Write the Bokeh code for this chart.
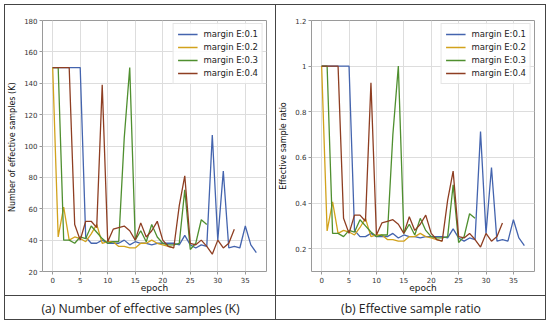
from bokeh.plotting import figure
from bokeh.models import FixedTicker, Legend, LegendItem, Label, Range1d, Spacer
from bokeh.layouts import column, row
from bokeh.embed import file_html
from bokeh.resources import INLINE

# ---------------- data ----------------
series_names = ["margin E:0.1", "margin E:0.2", "margin E:0.3", "margin E:0.4"]
colors = ["#4464ae", "#d2a21c", "#4f8f2f", "#8e3e22"]

blue_k = [150, 150, 150, 150, 150, 150, 42, 38, 38, 40, 38, 38, 38, 40, 37, 39, 38, 38, 37, 38,
          38, 38, 38, 37, 43, 37, 35, 37, 36, 107, 40, 84, 35, 36, 35, 49, 37, 32]
yellow_k = [150, 42, 61, 40, 42, 41, 39, 44, 50, 38, 39, 39, 36, 36, 35, 35, 38, 38, 40, 38,
            37, 36, 35]
green_k = [150, 150, 40, 40, 38, 42, 41, 49, 45, 41, 38, 39, 39, 105, 150, 40, 46, 39, 50, 42,
           38, 37, 37, 38, 72, 34, 38, 53, 50]
brown_k = [150, 150, 150, 150, 50, 40, 52, 52, 48, 139, 39, 47, 48, 49, 46, 40, 51, 42, 46, 52,
           40, 36, 35, 62, 81, 38, 37, 40, 36, 31, 40, 35, 38, 47]

blue_r = [1.0, 1.0, 1.0, 1.0, 1.0, 1.0, 0.28, 0.253, 0.253, 0.267, 0.253, 0.253, 0.253, 0.267,
          0.247, 0.26, 0.253, 0.253, 0.247, 0.253, 0.253, 0.253, 0.253, 0.247, 0.287, 0.247,
          0.233, 0.247, 0.24, 0.713, 0.267, 0.556, 0.233, 0.24, 0.233, 0.327, 0.247, 0.213]
yellow_r = [1.0, 0.278, 0.405, 0.267, 0.28, 0.273, 0.26, 0.293, 0.333, 0.253, 0.26, 0.26, 0.24,
            0.24, 0.233, 0.233, 0.253, 0.253, 0.267, 0.253, 0.247, 0.24, 0.233]
green_r = [1.0, 1.0, 0.267, 0.267, 0.253, 0.28, 0.273, 0.327, 0.3, 0.273, 0.253, 0.26, 0.26, 0.7,
           1.0, 0.267, 0.307, 0.26, 0.333, 0.28, 0.253, 0.247, 0.247, 0.253, 0.48, 0.227, 0.253,
           0.353, 0.333]
brown_r = [1.0, 1.0, 1.0, 1.0, 0.333, 0.267, 0.347, 0.347, 0.32, 0.927, 0.26, 0.313, 0.32, 0.327,
           0.307, 0.267, 0.34, 0.28, 0.307, 0.347, 0.267, 0.24, 0.233, 0.413, 0.54, 0.253, 0.247,
           0.267, 0.24, 0.207, 0.267, 0.233, 0.253, 0.313]

x_ticks = [0, 5, 10, 15, 20, 25, 30, 35]
k_ticks = [20, 40, 60, 80, 100, 120, 140, 160, 180]
r_ticks = [0.2, 0.4, 0.6, 0.8, 1.0, 1.2]

y_label_a = "Number of effective samples  (K)"
y_label_b = "Effective sample ratio"
x_label = "epoch"
caption_a = "(a) Number of effective samples (K)"
caption_b = "(b) Effective sample ratio"

FONT = "DejaVu Sans"
EDGE = "#444444"


def make_plot(series, y_range, y_ticks, y_label, width, left, right):
    p = figure(width=width, height=290, output_backend="svg", toolbar_location=None,
               x_range=Range1d(-1.85, 38.85), y_range=Range1d(*y_range),
               min_border_left=left, min_border_right=right, min_border_top=15,
               min_border_bottom=21)
    p.background_fill_color = "white"
    p.border_fill_color = "white"
    p.outline_line_color = "#9a9a9a"
    p.outline_line_width = 1
    items = []
    for name, col, ys in zip(series_names, colors, series):
        r = p.line(list(range(len(ys))), ys, line_color=col, line_width=1.3)
        items.append(LegendItem(label=name, renderers=[r]))
    for ax in (p.xaxis[0], p.yaxis[0]):
        ax.axis_line_color = None
        ax.major_tick_line_color = "#9a9a9a"
        ax.major_tick_out = 3
        ax.major_tick_in = 0
        ax.minor_tick_line_color = None
        ax.major_label_text_font = FONT
        ax.major_label_text_font_size = "7px"
        ax.major_label_text_color = "#333333"
        ax.major_label_standoff = 2
        ax.axis_label_text_font = FONT
        ax.axis_label_text_font_size = "8px"
        ax.axis_label_text_font_style = "normal"
        ax.axis_label_text_color = "#111111"
    p.xaxis[0].ticker = FixedTicker(ticks=x_ticks)
    p.yaxis[0].ticker = FixedTicker(ticks=y_ticks)
    p.yaxis[0].axis_label = y_label
    p.yaxis[0].axis_label_standoff = 4
    p.xaxis[0].axis_label = x_label
    p.xaxis[0].axis_label_text_font_size = "9px"
    p.xaxis[0].axis_label_standoff = -3
    p.grid.grid_line_color = "#dddddd"
    p.grid.grid_line_width = 1
    leg = Legend(items=items, location="top_right", label_text_font=FONT,
                 label_text_font_size="8.5px", label_text_color="#222222",
                 glyph_width=20, glyph_height=12, label_height=12, spacing=1,
                 padding=4, margin=3, label_standoff=6,
                 border_line_color="#cccccc", background_fill_alpha=0.85)
    p.add_layout(leg)
    return p


def make_caption(text, width):
    c = figure(width=width, height=23, output_backend="svg", toolbar_location=None,
               x_range=Range1d(0, 1), y_range=Range1d(0, 1), x_axis_type=None,
               y_axis_type=None, min_border=0)
    c.min_border_left = c.min_border_right = c.min_border_top = c.min_border_bottom = 0
    c.outline_line_color = None
    c.background_fill_color = "white"
    c.border_fill_color = "white"
    c.grid.visible = False
    c.add_layout(Label(x=0.5, y=0.5, text=text, text_font="Open Sans", text_font_size="12.2px",
                       text_color="#222222", text_align="center", text_baseline="middle"))
    return c


def vline(h):
    return Spacer(width=1, height=h, styles={"background-color": EDGE})


def hline(w):
    return Spacer(width=w, height=1, styles={"background-color": EDGE})


p1 = make_plot([blue_k, yellow_k, green_k, brown_k], (20, 180), k_ticks, y_label_a, 270, 35, 9)
p2 = make_plot([blue_r, yellow_r, green_r, brown_r], (0.1, 1.2), r_ticks, y_label_b, 269, 33, 11)
c1 = make_caption(caption_a, 270)
c2 = make_caption(caption_b, 269)

content = column(
    hline(542),
    row(vline(290), p1, vline(290), p2, vline(290), spacing=0),
    hline(542),
    row(vline(23), c1, vline(23), c2, vline(23), spacing=0),
    hline(542),
    spacing=0,
)
layout = row(Spacer(width=4, height=4), column(Spacer(width=4, height=4), content, spacing=0),
             spacing=0)

open("out.html", "w").write(file_html(layout, INLINE))
